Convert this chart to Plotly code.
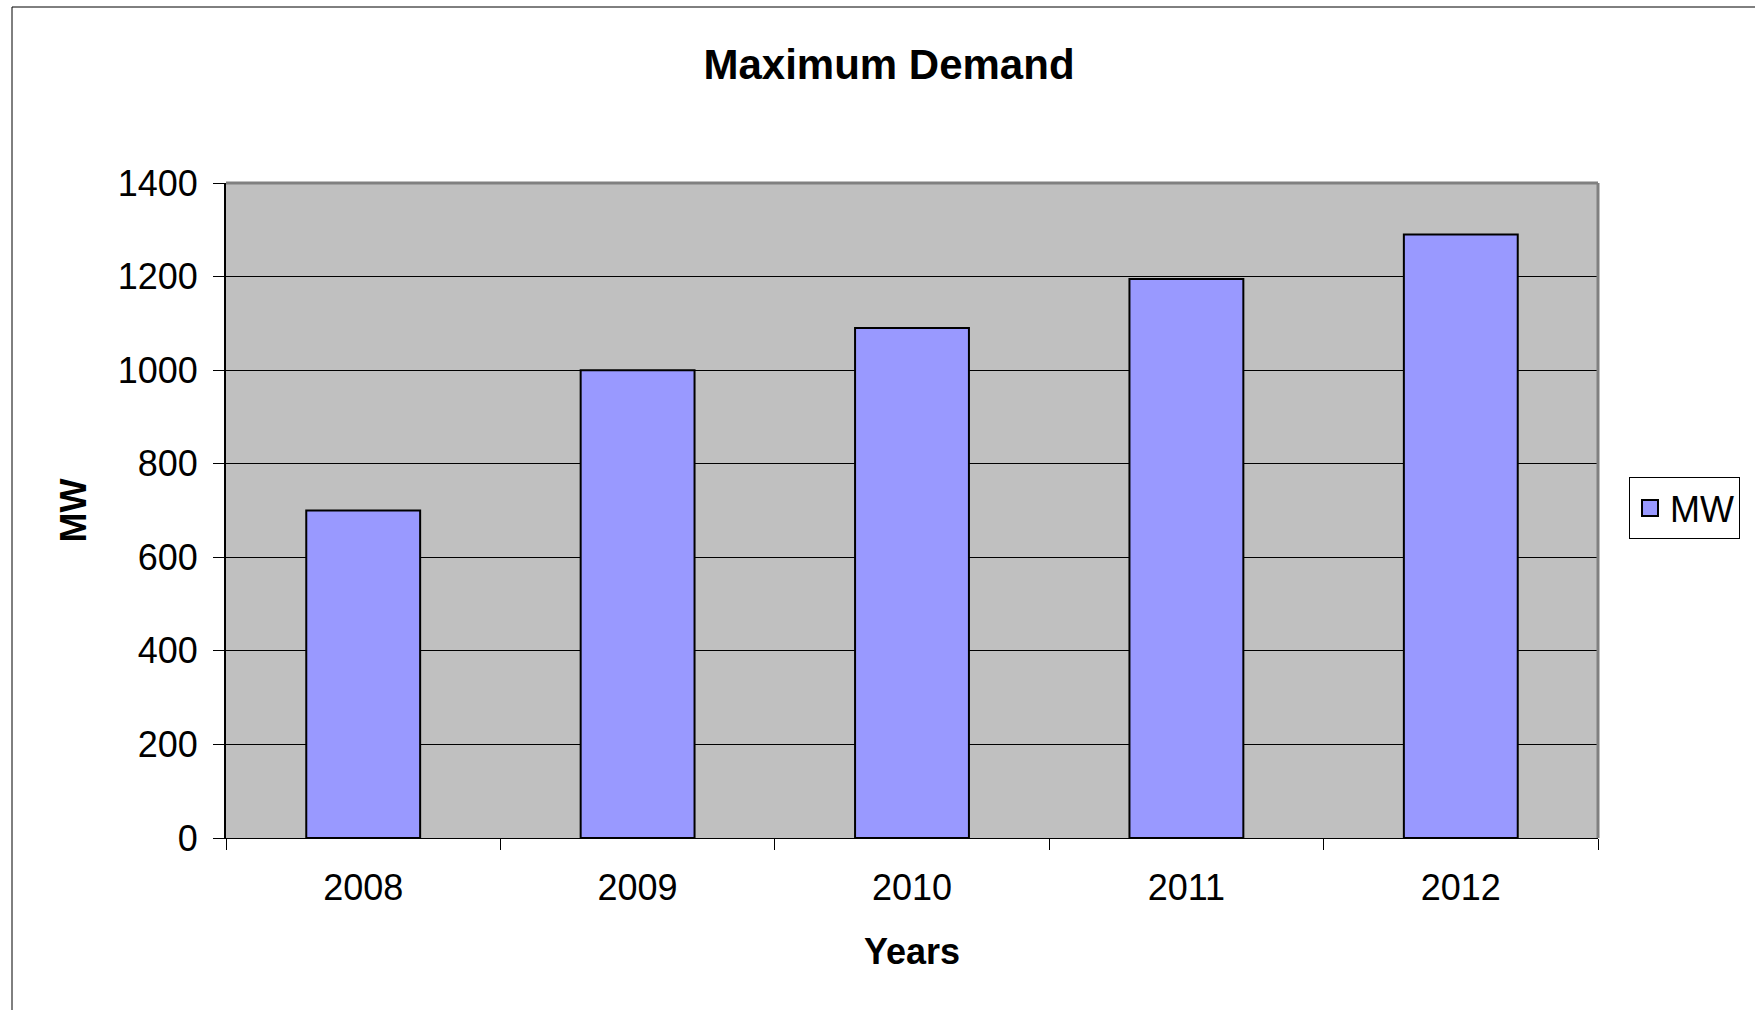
import plotly.graph_objects as go

years = ["2008", "2009", "2010", "2011", "2012"]
mw = [700, 1000, 1090, 1195, 1290]
y_ticks = [0, 200, 400, 600, 800, 1000, 1200, 1400]

W, H = 1755, 1010
ml, mr, mt, mb = 226, 157, 183, 172
pw = W - ml - mr
ph = H - mt - mb

def px_x(p):
    return (p - ml) / pw

def px_y(p):
    return (H - mb - p) / ph

fig = go.Figure()
fig.add_trace(go.Bar(
    x=years, y=mw, name="MW", showlegend=False,
    marker=dict(color="#9999FF", line=dict(color="black", width=2)),
))
# legend entry with a larger square swatch
fig.add_trace(go.Scatter(
    x=[None], y=[None], name="MW", mode="markers",
    marker=dict(symbol="square", size=16, color="#9999FF", line=dict(color="black", width=2)),
))

fig.update_layout(
    width=W, height=H,
    margin=dict(l=ml, r=mr, t=mt, b=mb),
    paper_bgcolor="white",
    plot_bgcolor="#C0C0C0",
    font=dict(family="Liberation Sans, Arial, sans-serif", color="black"),
    bargap=0.585,
    showlegend=True,
    title=dict(text="<b>Maximum Demand</b>", x=889 / W, xref="container", xanchor="center",
               y=1 - 64 / H, yref="container", yanchor="middle",
               font=dict(size=42, color="black")),
    legend=dict(x=px_x(1629), xanchor="left", y=px_y(508), yanchor="middle",
                bordercolor="black", borderwidth=1, bgcolor="white",
                font=dict(size=36), itemwidth=30),
    xaxis=dict(
        type="category", tickson="boundaries", ticks="outside", ticklen=11,
        tickcolor="black", tickfont=dict(size=36), showline=True, linecolor="black",
        linewidth=1, showgrid=False, ticklabelstandoff=18,
        title=dict(text="<b>Years</b>", font=dict(size=36), standoff=31),
    ),
    yaxis=dict(
        range=[0, 1400], tickvals=y_ticks, ticks="outside", ticklen=11,
        tickcolor="black", tickfont=dict(size=36), showline=True, linecolor="black",
        linewidth=2, showgrid=True, gridcolor="black", gridwidth=1, zeroline=False,
        ticklabelstandoff=8,
        title=dict(text="<b>MW</b>", font=dict(size=36), standoff=20),
    ),
)

# grey top/right border of plot area
fig.add_shape(type="line", xref="paper", yref="paper", x0=0, x1=1, y0=1, y1=1,
              line=dict(color="#808080", width=3))
fig.add_shape(type="line", xref="paper", yref="paper", x0=1, x1=1, y0=0, y1=1,
              line=dict(color="#808080", width=3))
# outer chart frame
fig.add_shape(type="rect", xref="paper", yref="paper",
              x0=px_x(12), x1=px_x(1800), y0=px_y(1050), y1=px_y(7),
              line=dict(color="black", width=1), layer="below")

fig.write_html("out.html")
